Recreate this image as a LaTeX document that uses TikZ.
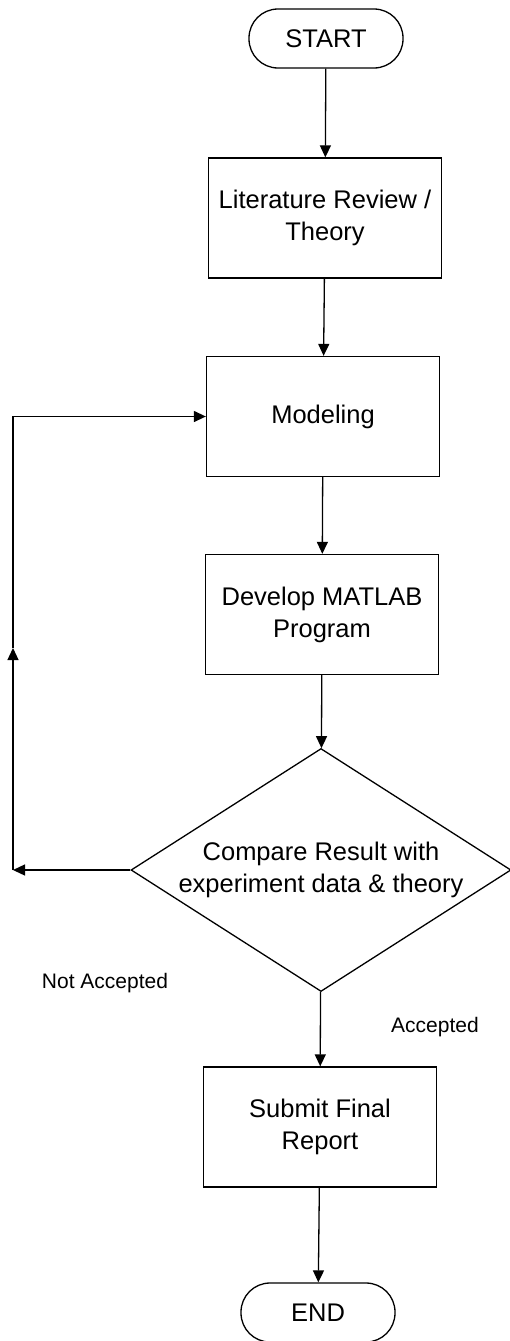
\documentclass[tikz,border=0pt]{standalone}
\usepackage{fontspec}
\setmainfont{Liberation Sans}
\usetikzlibrary{shapes.geometric,arrows.meta}

\begin{document}
\begin{tikzpicture}[x=1pt,y=-1pt,
    box/.style={draw,line width=1.3pt,minimum width=233pt,minimum height=120pt,align=center,font=\fontsize{25.5}{32}\selectfont},
    term/.style={draw,line width=1.3pt,rounded corners=29pt,minimum width=154pt,minimum height=59pt,font=\fontsize{25.5}{32}\selectfont},
    decide/.style={draw,diamond,line width=1.3pt,aspect=1.56,inner sep=0pt,minimum width=380pt,minimum height=243pt,align=center,font=\fontsize{25.5}{32}\selectfont},
    lbl/.style={font=\fontsize{21}{25}\selectfont},
    arr/.style={line width=1.3pt,-{Triangle[length=12pt,width=11pt]}}]
    \useasboundingbox (0,0) rectangle (510,1341);

    \node[term] (start) at (326,38.5) {START};
    \node[box] (lit) at (325,218) {Literature Review /\\Theory};
    \node[box] (model) at (323,416.5) {Modeling};
    \node[box] (matlab) at (322,614.5) {Develop MATLAB\\Program};
    \node[decide] (cmp) at (321,870) {Compare Result with\\experiment data \& theory};
    \node[box] (report) at (320,1127) {Submit Final\\Report};
    \node[term] (stop) at (318,1312.5) {END};

    \node[lbl] (nacc) at (105,983) {Not Accepted};
    \node[lbl] (acc) at (435,1027) {Accepted};

    % loop back
    \coordinate (cl) at (13,870);
    \coordinate (cm) at (13,648);
    \coordinate (ct) at (13,416.5);

    \draw[arr] (start) -- (lit);
    \draw[arr] (lit) -- (model);
    \draw[arr] (model) -- (matlab);
    \draw[arr] (matlab) -- (cmp);
    \draw[arr] (cmp) -- (report);
    \draw[arr] (report) -- (stop);

    \draw[arr] (cmp.west) -- (cl);
    \draw[arr] (cl) -- (cm);
    \draw[arr] (cm) -- (ct) -- (model.west);
\end{tikzpicture}
\end{document}
